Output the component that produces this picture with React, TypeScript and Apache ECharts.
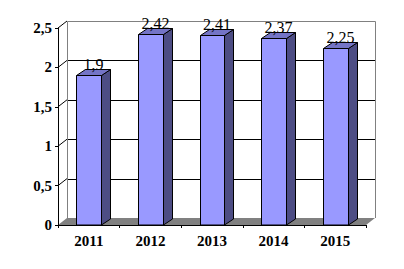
import React, { useEffect, useRef } from "react";
import * as echarts from "echarts";

const categories = ["2011", "2012", "2013", "2014", "2015"];
const values = [1.9, 2.42, 2.41, 2.37, 2.25];
const valueLabels = ["1,9", "2,42", "2,41", "2,37", "2,25"];
const yTicks = [0, 0.5, 1, 1.5, 2, 2.5];

const WALL_DX = 9;
const WALL_DY = 7;
const BAR_DX = 9;
const BAR_DY = 6;
const SERIF = "'Liberation Serif', 'Times New Roman', serif";

const px = (v: number) => Math.round(v) + 0.5;

export default function App() {
  const ref = useRef<HTMLDivElement>(null);
  useEffect(() => {
    if (!ref.current) return;
    const chart = echarts.init(ref.current, undefined, { renderer: "svg" });
    const yMax = yTicks[yTicks.length - 1];
    chart.setOption({
      animation: false,
      backgroundColor: "#ffffff",
      grid: { left: 58, right: 38, top: 28, bottom: 44, containLabel: false },
      xAxis: {
        type: "category",
        data: categories,
        z: 10,
        axisLine: { show: true, lineStyle: { color: "#000", width: 1 } },
        axisTick: { show: true, length: 3, lineStyle: { color: "#000" } },
        axisLabel: {
          color: "#000",
          fontFamily: SERIF,
          fontWeight: "bold",
          fontSize: 15,
          margin: 8,
        },
        splitLine: { show: false },
      },
      yAxis: {
        type: "value",
        min: 0,
        max: yMax,
        interval: 0.5,
        z: 10,
        axisLine: { show: true, lineStyle: { color: "#000", width: 1 } },
        axisTick: { show: true, length: 3, lineStyle: { color: "#000" } },
        axisLabel: {
          color: "#000",
          fontFamily: SERIF,
          fontWeight: "bold",
          fontSize: 15,
          margin: 6,
          formatter: (v: number) => String(v).replace(".", ","),
        },
        splitLine: { show: false },
      },
      series: [
        {
          type: "custom",
          z: 1,
          silent: true,
          data: [[0, 0]],
          encode: { x: 0, y: 1 },
          renderItem: (params: any, api: any) => {
            const cs = params.coordSys;
            const x0 = cs.x;
            const x1 = cs.x + cs.width;
            const yb = cs.y + cs.height;
            const topY = api.coord([0, yMax])[1];
            const children: any[] = [];
            children.push({
              type: "rect",
              shape: {
                x: x0 + WALL_DX,
                y: topY - WALL_DY,
                width: x1 - x0,
                height: yb - topY,
              },
              style: { fill: "#ffffff" },
            });
            children.push({
              type: "polygon",
              shape: {
                points: [
                  [x0, yb],
                  [x0 + WALL_DX, yb - WALL_DY],
                  [x1 + WALL_DX, yb - WALL_DY],
                  [x1, yb],
                ],
              },
              style: { fill: "#808080" },
            });
            yTicks.forEach((v) => {
              const y = api.coord([0, v])[1];
              if (v !== 0 && v !== yMax) {
                children.push({
                  type: "line",
                  shape: {
                    x1: x0 + WALL_DX,
                    y1: px(y - WALL_DY),
                    x2: x1 + WALL_DX,
                    y2: px(y - WALL_DY),
                  },
                  style: { stroke: "#000", lineWidth: 1 },
                });
              }
              if (v !== 0) {
                children.push({
                  type: "line",
                  shape: { x1: x0, y1: y, x2: x0 + WALL_DX, y2: y - WALL_DY },
                  style: { stroke: "#000", lineWidth: 1 },
                });
              }
            });
            children.push({
              type: "polyline",
              shape: {
                points: [
                  [px(x0 + WALL_DX), yb - WALL_DY],
                  [px(x0 + WALL_DX), px(topY - WALL_DY)],
                  [px(x1 + WALL_DX), px(topY - WALL_DY)],
                  [px(x1 + WALL_DX), yb - WALL_DY],
                ],
              },
              style: { stroke: "#808080", lineWidth: 1, fill: "none" },
            });
            return { type: "group", children };
          },
        },
        {
          type: "custom",
          z: 3,
          data: values.map((v, i) => [i, v]),
          encode: { x: 0, y: 1 },
          renderItem: (params: any, api: any) => {
            const idx = api.value(0);
            const val = api.value(1);
            const top = api.coord([idx, val]);
            const base = api.coord([idx, 0]);
            const bw = api.size([1, 0])[0] * 0.4;
            const xl = px(top[0] - bw / 2);
            const xr = px(top[0] + bw / 2);
            const yt = px(top[1]);
            const yb = base[1];
            const stroke = { stroke: "#000", lineWidth: 1 };
            return {
              type: "group",
              children: [
                {
                  type: "polygon",
                  shape: {
                    points: [
                      [xr, yt],
                      [xr + BAR_DX, yt - BAR_DY],
                      [xr + BAR_DX, yb - BAR_DY],
                      [xr, yb],
                    ],
                  },
                  style: { fill: "#4d4d84", ...stroke },
                },
                {
                  type: "polygon",
                  shape: {
                    points: [
                      [xl, yt],
                      [xl + BAR_DX, yt - BAR_DY],
                      [xr + BAR_DX, yt - BAR_DY],
                      [xr, yt],
                    ],
                  },
                  style: { fill: "#7474c6", ...stroke },
                },
                {
                  type: "rect",
                  shape: { x: xl, y: yt, width: xr - xl, height: yb - yt },
                  style: { fill: "#9999ff", ...stroke },
                },
                {
                  type: "text",
                  style: {
                    text: valueLabels[params.dataIndex],
                    x: (xl + xr) / 2 + BAR_DX / 2,
                    y: yt - BAR_DY + 3,
                    align: "center",
                    verticalAlign: "bottom",
                    fontFamily: SERIF,
                    fontSize: 16,
                    fill: "#000",
                  },
                },
              ],
            };
          },
        },
      ],
    });
    return () => chart.dispose();
  }, []);
  return (
    <div
      ref={ref}
      style={{ position: "fixed", left: 0, top: 0, width: 404, height: 269 }}
    />
  );
}
